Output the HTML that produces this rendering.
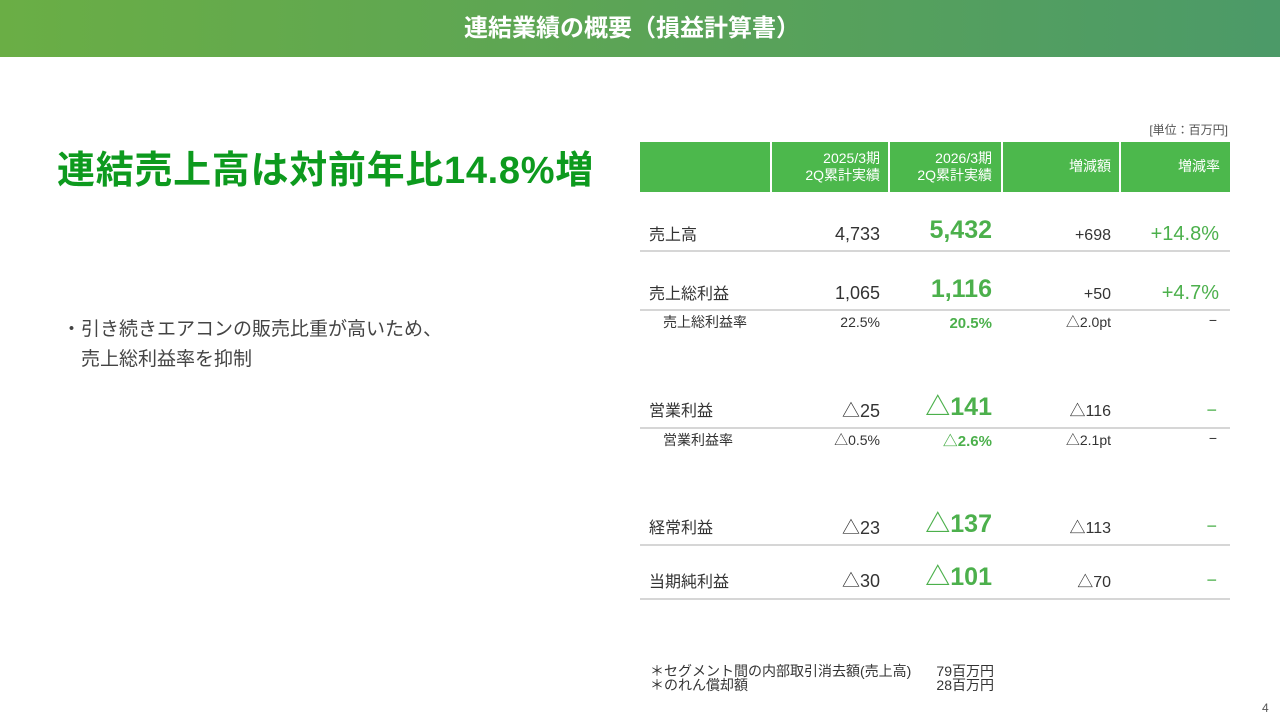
<!DOCTYPE html>
<html><head><meta charset="utf-8"><style>
body{margin:0;width:1280px;height:720px;background:#fff;position:relative;overflow:hidden;font-family:"Liberation Sans","Noto Sans CJK JP",sans-serif;color:#333}
.a{position:absolute;white-space:nowrap;line-height:1}
.r{text-align:right}
.hdr{position:absolute;left:0;top:0;width:1280px;height:57px;background:linear-gradient(90deg,#6aae45,#4c9a68)}
.th{position:absolute;top:142px;height:50px;background:#4cb84c;color:#fff;font-size:14px}
.ln{position:absolute;left:640px;width:590px;height:2px;background:#d6d6d6}
.g{color:#4cb04c;font-weight:bold}
.lg{font-size:18px}
.sm{font-size:14px}
</style></head><body>
<div class="hdr"></div>
<div class="a" style="left:0;width:1264px;text-align:center;top:17px;font-size:24px;font-weight:bold;color:#fff">連結業績の概要（損益計算書）</div>
<div class="a" style="left:57px;top:152px;font-size:38px;font-weight:bold;color:#0d9a1e;letter-spacing:0.7px">連結売上高は対前年比14.8%増</div>
<div class="a" style="left:62px;top:320px;font-size:19px;color:#444">・引き続きエアコンの販売比重が高いため、</div>
<div class="a" style="left:81px;top:350px;font-size:19px;color:#444">売上総利益率を抑制</div>
<div class="a r" style="right:52px;top:124px;font-size:12px;color:#555">[単位：百万円]</div>
<div class="th" style="left:640px;width:130px"></div>
<div class="th" style="left:772px;width:116px"><div class="a r" style="right:8px;top:8px;line-height:17px">2025/3期<br>2Q累計実績</div></div>
<div class="th" style="left:890px;width:111px"><div class="a r" style="right:9px;top:8px;line-height:17px">2026/3期<br>2Q累計実績</div></div>
<div class="th" style="left:1003px;width:116px"><div class="a r" style="right:8px;top:17px">増減額</div></div>
<div class="th" style="left:1121px;width:109px"><div class="a r" style="right:10px;top:17px">増減率</div></div>

<div class="ln" style="top:250px"></div>
<div class="ln" style="top:309px"></div>
<div class="ln" style="top:427px"></div>
<div class="ln" style="top:544px"></div>
<div class="ln" style="top:598px"></div>

<div class="a" style="left:649px;top:228px;font-size:16px">売上高</div>
<div class="a r lg" style="right:400px;top:225px">4,733</div>
<div class="a r g" style="right:288px;top:218px;font-size:25px">5,432</div>
<div class="a r" style="right:169px;top:228px;font-size:16px">+698</div>
<div class="a r" style="right:61px;top:224px;font-size:20px;color:#4cb04c">+14.8%</div>

<div class="a" style="left:649px;top:287px;font-size:16px">売上総利益</div>
<div class="a r lg" style="right:400px;top:284px">1,065</div>
<div class="a r g" style="right:288px;top:277px;font-size:25px">1,116</div>
<div class="a r" style="right:169px;top:287px;font-size:16px">+50</div>
<div class="a r" style="right:61px;top:283px;font-size:20px;color:#4cb04c">+4.7%</div>

<div class="a sm" style="left:663px;top:315px">売上総利益率</div>
<div class="a r sm" style="right:400px;top:315px">22.5%</div>
<div class="a r g" style="right:288px;top:316px;font-size:15px">20.5%</div>
<div class="a r sm" style="right:169px;top:315px">△2.0pt</div>
<div class="a r sm" style="right:63px;top:313px">−</div>

<div class="a" style="left:649px;top:404px;font-size:16px">営業利益</div>
<div class="a r lg" style="right:400px;top:402px">△25</div>
<div class="a r g" style="right:288px;top:395px;font-size:25px">△141</div>
<div class="a r" style="right:169px;top:404px;font-size:16px">△116</div>
<div class="a r" style="right:63px;top:401px;font-size:18px;color:#4cb04c">−</div>

<div class="a sm" style="left:663px;top:433px">営業利益率</div>
<div class="a r sm" style="right:400px;top:433px">△0.5%</div>
<div class="a r g" style="right:288px;top:434px;font-size:15px">△2.6%</div>
<div class="a r sm" style="right:169px;top:433px">△2.1pt</div>
<div class="a r sm" style="right:63px;top:431px">−</div>

<div class="a" style="left:649px;top:521px;font-size:16px">経常利益</div>
<div class="a r lg" style="right:400px;top:519px">△23</div>
<div class="a r g" style="right:288px;top:512px;font-size:25px">△137</div>
<div class="a r" style="right:169px;top:521px;font-size:16px">△113</div>
<div class="a r" style="right:63px;top:517px;font-size:18px;color:#4cb04c">−</div>

<div class="a" style="left:649px;top:575px;font-size:16px">当期純利益</div>
<div class="a r lg" style="right:400px;top:572px">△30</div>
<div class="a r g" style="right:288px;top:565px;font-size:25px">△101</div>
<div class="a r" style="right:169px;top:575px;font-size:16px">△70</div>
<div class="a r" style="right:63px;top:571px;font-size:18px;color:#4cb04c">−</div>

<div class="a" style="left:650px;top:664px;font-size:14px;line-height:14px;color:#333">＊セグメント間の内部取引消去額(売上高)<br>＊のれん償却額</div>
<div class="a r" style="right:286px;top:664px;font-size:14px;line-height:14px;color:#333">79百万円<br>28百万円</div>
<div class="a" style="left:1262px;top:702px;font-size:12px;color:#555">4</div>
</body></html>
